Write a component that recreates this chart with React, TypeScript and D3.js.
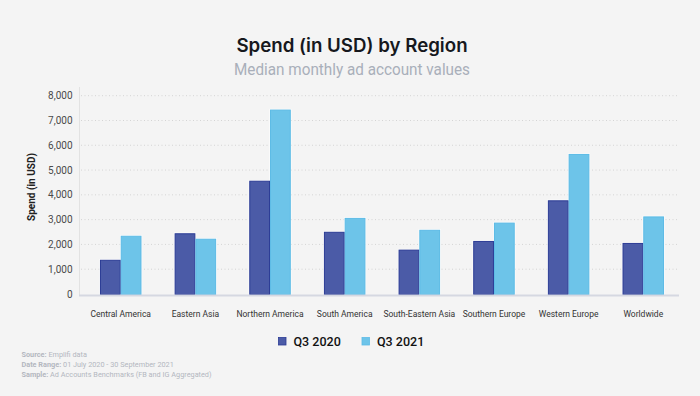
import React, { useEffect, useRef } from "react";
import * as d3 from "d3";

const regions = [
  "Central America",
  "Eastern Asia",
  "Northern America",
  "South America",
  "South-Eastern Asia",
  "Southern Europe",
  "Western Europe",
  "Worldwide",
];
const q3_2020 = [1380, 2450, 4570, 2510, 1790, 2140, 3780, 2060];
const q3_2021 = [2350, 2230, 7440, 3070, 2590, 2880, 5650, 3130];
const seriesNames = ["Q3 2020", "Q3 2021"];
const yTicks = [0, 1000, 2000, 3000, 4000, 5000, 6000, 7000, 8000];
const footer = [
  ["Source:", " Emplifi data"],
  ["Date Range:", " 01 July 2020 - 30 September 2021"],
  ["Sample:", " Ad Accounts Benchmarks (FB and IG Aggregated)"],
];

const W = 700;
const H = 396;
const FILL = ["#4b5ba7", "#6dc4e9"];
const EDGE = ["#2b3b95", "#5cbbe6"];
const FONT = "Roboto, 'Noto Sans', sans-serif";

export default function App() {
  const svgRef = useRef<SVGSVGElement | null>(null);

  useEffect(() => {
    document.body.style.margin = "0";
    const svg = d3.select(svgRef.current);
    svg.selectAll("*").remove();

    svg.append("rect").attr("width", W).attr("height", H).attr("fill", "#f4f4f4");

    // タイトル
    svg
      .append("text")
      .attr("x", 352)
      .attr("y", 51.5)
      .attr("text-anchor", "middle")
      .attr("font-family", "Inter, 'Open Sans', sans-serif")
      .attr("font-weight", 600)
      .attr("font-size", 18.7)
      .attr("fill", "#16181d")
      .text("Spend (in USD) by Region");

    svg
      .append("text")
      .attr("x", 352)
      .attr("y", 75)
      .attr("text-anchor", "middle")
      .attr("font-family", FONT)
      .attr("font-size", 16.5)
      .attr("fill", "#a9afba")
      .attr("textLength", 236)
      .attr("lengthAdjust", "spacingAndGlyphs")
      .text("Median monthly ad account values");

    // スケール
    const x0 = d3
      .scaleBand<string>()
      .domain(regions)
      .range([83.4, 680.6])
      .paddingInner(0.444)
      .paddingOuter(0.222);
    const x1 = d3
      .scaleBand<number>()
      .domain([0, 1])
      .range([0, x0.bandwidth()]);
    const y = d3.scaleLinear().domain([0, 8000]).range([294, 95.7]);

    // グリッド（点線）
    svg
      .append("g")
      .selectAll("line")
      .data(yTicks.slice(1))
      .join("line")
      .attr("x1", 81)
      .attr("x2", 678)
      .attr("y1", (d) => y(d))
      .attr("y2", (d) => y(d))
      .attr("stroke", "#d4d4d4")
      .attr("stroke-width", 1)
      .attr("stroke-dasharray", "1,2.5");

    // Y軸
    svg
      .append("line")
      .attr("x1", 79.5)
      .attr("x2", 79.5)
      .attr("y1", 87)
      .attr("y2", 296)
      .attr("stroke", "#e2e2e2");

    svg
      .append("g")
      .selectAll("text")
      .data(yTicks)
      .join("text")
      .attr("x", 72.5)
      .attr("y", (d) => y(d))
      .attr("dy", "0.35em")
      .attr("text-anchor", "end")
      .attr("font-family", FONT)
      .attr("font-size", 10)
      .attr("fill", "#4a4a4a")
      .text((d) => d3.format(",")(d));

    svg
      .append("text")
      .attr("transform", "translate(35,187) rotate(-90)")
      .attr("text-anchor", "middle")
      .attr("font-family", FONT)
      .attr("font-weight", 700)
      .attr("font-size", 10)
      .attr("fill", "#222")
      .text("Spend (in USD)");

    // 棒（白い縁取り＋枠線）
    const groups = svg
      .append("g")
      .selectAll("g")
      .data(regions)
      .join("g")
      .attr("transform", (d) => `translate(${x0(d)},0)`);

    const bars = (_: string, i: number) =>
      [q3_2020[i], q3_2021[i]].map((v, s) => ({ v, s }));

    groups
      .selectAll("rect.halo")
      .data(bars)
      .join("rect")
      .attr("class", "halo")
      .attr("x", (d) => x1(d.s)!)
      .attr("y", (d) => y(d.v))
      .attr("width", x1.bandwidth())
      .attr("height", (d) => y(0) - y(d.v))
      .attr("fill", "none")
      .attr("stroke", "#ffffff")
      .attr("stroke-opacity", 0.7)
      .attr("stroke-width", 1.5);

    groups
      .selectAll("rect.bar")
      .data(bars)
      .join("rect")
      .attr("class", "bar")
      .attr("x", (d) => x1(d.s)! + 0.5)
      .attr("y", (d) => y(d.v) + 0.5)
      .attr("width", x1.bandwidth() - 1)
      .attr("height", (d) => y(0) - y(d.v))
      .attr("fill", (d) => FILL[d.s])
      .attr("stroke", (d) => EDGE[d.s])
      .attr("stroke-width", 1);

    // ベースライン
    svg
      .append("line")
      .attr("x1", 79)
      .attr("x2", 679)
      .attr("y1", 295.5)
      .attr("y2", 295.5)
      .attr("stroke", "#d5d8e1")
      .attr("stroke-width", 2);

    // Xラベル
    svg
      .append("g")
      .selectAll("text")
      .data(regions)
      .join("text")
      .attr("x", (d) => x0(d)! + x0.bandwidth() / 2)
      .attr("y", 317)
      .attr("text-anchor", "middle")
      .attr("font-family", FONT)
      .attr("font-size", 8.5)
      .attr("fill", "#333")
      .text((d) => d);

    // 凡例
    const legX = [278.5, 362];
    const leg = svg
      .append("g")
      .selectAll("g")
      .data(seriesNames)
      .join("g")
      .attr("transform", (_, i) => `translate(${legX[i]},337.5)`);
    leg
      .append("rect")
      .attr("width", 7.5)
      .attr("height", 7.5)
      .attr("fill", (_, i) => FILL[i])
      .attr("stroke", (_, i) => EDGE[i])
      .attr("stroke-width", 0.8);
    leg
      .append("text")
      .attr("x", 15)
      .attr("y", 8)
      .attr("font-family", FONT)
      .attr("font-weight", 500)
      .attr("font-size", 12.5)
      .attr("fill", "#111")
      .text((d) => d);

    // フッター
    const ft = svg
      .append("g")
      .selectAll("text")
      .data(footer)
      .join("text")
      .attr("x", 21.5)
      .attr("y", (_, i) => 357 + i * 10)
      .attr("font-family", FONT)
      .attr("font-size", 7.3)
      .attr("fill", "#b3b7bf");
    ft.append("tspan")
      .attr("font-weight", 700)
      .text((d) => d[0]);
    ft.append("tspan").text((d) => d[1]);
  }, []);

  return <svg ref={svgRef} width={W} height={H} style={{ display: "block" }} />;
}
